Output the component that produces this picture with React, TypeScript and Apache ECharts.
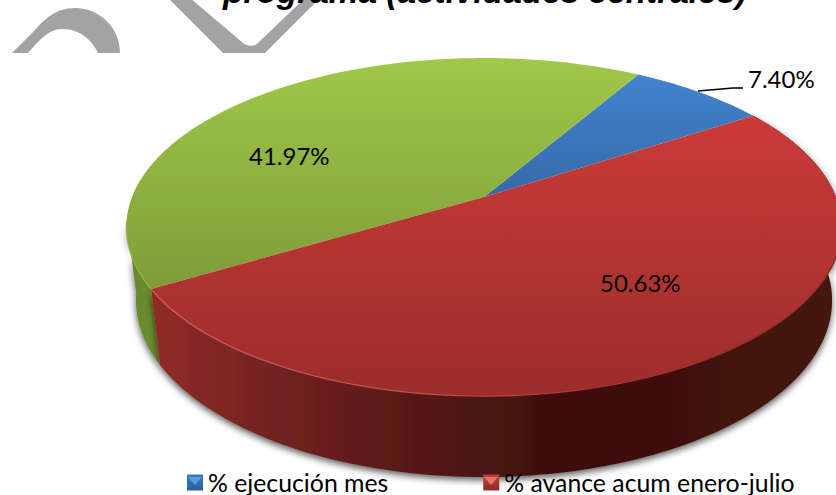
import React, { useEffect, useRef } from "react";
import * as echarts from "echarts";

const sliceNames = ["% ejecución mes", "% avance acum enero-julio", "% pendiente"];
const sliceValues = [7.4, 50.63, 41.97];
const labelTexts = ["7.40%", "50.63%", "41.97%"];
const titleText = "programa (actividades centrales)";

const START_DEG = 30.4;
const topFace = { ax: 484, ay: 197, A: 352, B: 163.7, p: 0.178 };
const baseFace = { ax: 484, ay: 269, A: 342.5, B: 171, p: 0.178 };
const FONT = "Lato, Carlito, 'Noto Sans', sans-serif";

const grad = (x0: number, y0: number, x1: number, y1: number, stops: [number, string][]) =>
  new echarts.graphic.LinearGradient(x0, y0, x1, y1, stops.map(([offset, color]) => ({ offset, color })));

const project = (f: typeof topFace, deg: number) => {
  const t = (deg * Math.PI) / 180;
  const u = Math.sin(t);
  const v = -Math.cos(t);
  const d = 1 - f.p * v;
  return [f.ax + (f.A * u) / d, f.ay + (f.B * v) / d];
};

const arcPts = (f: typeof topFace, a: number, b: number) => {
  const n = Math.max(4, Math.ceil(Math.abs(b - a) / 1.5));
  const pts: number[][] = [];
  for (let i = 0; i <= n; i++) pts.push(project(f, a + ((b - a) * i) / n));
  return pts;
};
const toD = (pts: number[][]) => pts.map((p, i) => `${i ? "L" : "M"}${p[0].toFixed(2)} ${p[1].toFixed(2)}`).join(" ");

const sliceStart = (i: number) => {
  const total = sliceValues.reduce((s, v) => s + v, 0);
  return START_DEG + (sliceValues.slice(0, i).reduce((s, v) => s + v, 0) / total) * 360;
};

const styles = [
  {
    top: [[0, "#4283cf"], [1, "#366aa8"]] as [number, string][],
    wall: null as null | [number, string][],
    wallTo: 0,
    rim: null as null | [number, string][],
  },
  {
    top: [[0, "#cb3b38"], [1, "#9b2d2b"]] as [number, string][],
    wall: [[0, "#912b28"], [0.2, "#6f2120"], [0.4, "#551816"], [0.6, "#3c0f0d"], [1, "#44140f"]] as [number, string][],
    wallTo: 0,
    rim: [[0, "#d8605c"], [0.45, "#c24a47"], [0.65, "#a6302e"], [1, "#7a2422"]] as [number, string][],
  },
  {
    top: [[0, "#a0c84a"], [1, "#7f9c38"]] as [number, string][],
    wall: [[0, "#67852c"], [1, "#6f8f30"]] as [number, string][],
    wallTo: 262,
    rim: [[0, "#93b748"], [1, "#93b748"]] as [number, string][],
  },
];

const renderSlice = (i: number) => (_params: any, api: any) => {
  const a = sliceStart(i);
  const b = a + (api.value(0) / sliceValues.reduce((s, v) => s + v, 0)) * 360;
  const children: any[] = [];
  const st = styles[i];
  if (st.wall) {
    const wallEnd = st.wallTo || b;
    const upper = arcPts(topFace, a, wallEnd);
    const lower = arcPts(baseFace, a, wallEnd).reverse();
    children.push({
      type: "path",
      shape: { pathData: toD(upper.concat(lower)) + " Z" },
      style: {
        fill: grad(0, 0, 1, 0, st.wall),
        shadowColor: "rgba(0,0,0,0.65)",
        shadowBlur: 7,
        shadowOffsetX: 0,
        shadowOffsetY: 3,
      },
    });
  }
  const apex = [topFace.ax, topFace.ay];
  const rimPts = arcPts(topFace, a, b);
  children.push({
    type: "path",
    shape: { pathData: toD([apex, ...rimPts]) + " Z" },
    style: { fill: grad(0, 0, 0, 1, st.top) },
  });
  if (st.rim) {
    const front = i === 2 ? arcPts(topFace, a, 262) : arcPts(topFace, Math.max(a, 105), b);
    children.push({
      type: "path",
      shape: { pathData: toD(front) },
      style: { fill: "none", stroke: grad(0, 0, 1, 0, st.rim), lineWidth: 1.4, opacity: 0.8 },
    });
  }
  return { type: "group", children };
};

echarts.graphic.registerShape(
  "wmArc",
  echarts.graphic.extendPath(
    "M12 53 L34 31 C44 20 55 8 75 8 C100 8 120 28 120 53 L98 53 C92 40 80 29 62 29 C48 29 38 42 28 53 Z",
    {}
  ) as any
);
echarts.graphic.registerShape(
  "wmVee",
  echarts.graphic.extendPath(
    "M168 -2 L190 -2 L243 43 C248 47 256 47 260 41 L305 -2 L320 -2 L265 53 L223 53 Z",
    {}
  ) as any
);

const iconBevel = (x: number, color: string) => ({
  type: "polygon",
  z: 20,
  shape: { points: [[x + 1, 477], [x + 15, 477], [x + 8, 485]] },
  style: { fill: color },
});

export default function App() {
  const ref = useRef<HTMLDivElement>(null);
  useEffect(() => {
    const chart = echarts.init(ref.current!, undefined, { renderer: "svg" });
    chart.setOption({
      animation: false,
      backgroundColor: "#ffffff",
      legend: {
        data: sliceNames.slice(0, 2).map((name, i) => ({
          name,
          icon: "rect",
          itemStyle: { color: grad(0, 0, 0, 1, i ? [[0, "#c0403c"], [1, "#8f2a28"]] : [[0, "#3a78c2"], [1, "#2f5f99"]]) },
        })),
        left: 187,
        top: 470,
        itemWidth: 16,
        itemHeight: 16,
        itemGap: 95,
        padding: 0,
        selectedMode: false,
        textStyle: { fontFamily: FONT, fontSize: 24.8, color: "#000000" },
      },
      series: sliceNames.map((name, i) => ({
        type: "custom",
        name,
        coordinateSystem: "none",
        silent: true,
        z: [1, 3, 2][i],
        itemStyle: { color: styles[i].top[0][1] },
        data: [[sliceValues[i]]],
        renderItem: renderSlice(i),
      })),
      graphic: [
        { type: "wmArc", x: 0, y: 0, z: 0, style: { fill: "#a3a3a3" } },
        { type: "wmVee", x: 0, y: 0, z: 0, style: { fill: "#a3a3a3" } },
        {
          type: "text", x: 223, y: 8, z: 10,
          style: { text: titleText, fill: "#000", font: "italic bold 33.4px 'Liberation Sans', Arial, sans-serif", textVerticalAlign: "bottom" },
        },
        {
          type: "polyline", z: 10,
          shape: { points: [[698, 91], [733, 88], [743, 88]] },
          style: { stroke: "#000", lineWidth: 1.3, fill: "none" },
        },
        { type: "text", x: 748, y: 78, z: 10, style: { text: labelTexts[0], fill: "#000", font: `24px ${FONT}`, textVerticalAlign: "middle" } },
        { type: "text", x: 600, y: 282, z: 10, style: { text: labelTexts[1], fill: "#000", font: `24px ${FONT}`, textVerticalAlign: "middle" } },
        { type: "text", x: 249, y: 155, z: 10, style: { text: labelTexts[2], fill: "#000", font: `24px ${FONT}`, textVerticalAlign: "middle" } },
        iconBevel(187, "#5c9be0"),
        iconBevel(483, "#ee6f6a"),
      ],
    });
    return () => chart.dispose();
  }, []);
  return <div ref={ref} style={{ position: "fixed", left: 0, top: 0, width: 836, height: 495 }} />;
}
